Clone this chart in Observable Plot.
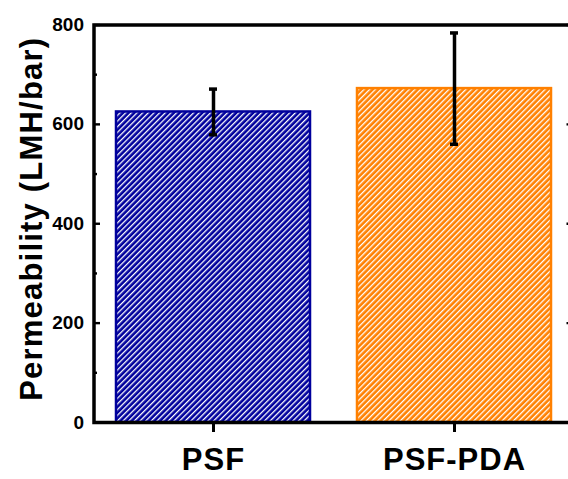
<!DOCTYPE html>
<html>
<head>
<meta charset="utf-8">
<script src="https://cdn.jsdelivr.net/npm/d3@7"></script>
<script src="https://cdn.jsdelivr.net/npm/@observablehq/plot@0.6"></script>
<style>
  html, body { margin: 0; padding: 0; background: #fff; overflow: hidden; }
  #chart { width: 568px; height: 479px; overflow: hidden; }
  #chart svg { max-width: none !important; }
</style>
</head>
<body>
<div id="chart"></div>
<script>
// Membrane permeability, mean ± error
const categories = ["PSF", "PSF-PDA"];
const permeability = [625, 672];
const errors = [46, 112];
const yTicks = [0, 200, 400, 600, 800];
const yMinorTicks = [100, 300, 500, 700];
const yTitle = "Permeability (LMH/bar)";
const barColors = ["#00009C", "#FF8000"];

const rows = categories.map((name, i) => ({
  name,
  value: permeability[i],
  lo: permeability[i] - errors[i],
  hi: permeability[i] + errors[i]
}));

const font = "'Liberation Sans', Arial, Helvetica, sans-serif";

const plot = Plot.plot({
  width: 575,
  height: 479,
  marginLeft: 93.5,
  marginRight: 2,
  marginTop: 24.5,
  marginBottom: 57,
  style: { fontFamily: font, fontWeight: "bold", color: "black", background: "white", maxWidth: "none" },
  x: { domain: categories, paddingInner: 0.187, paddingOuter: 0.085, label: null },
  y: { domain: [0, 800], label: null },
  marks: [
    // hatched bars
    ...rows.map((r, i) => Plot.barY([r], {
      x: "name", y: "value",
      fill: `url(#hatch-${i})`,
      stroke: barColors[i], strokeWidth: 2.5,
      insetLeft: 1, insetRight: 1
    })),
    // error bars
    Plot.ruleX(rows, { x: "name", y1: "lo", y2: "hi", stroke: "black", strokeWidth: 3.5 }),
    Plot.tickY(rows, { x: "name", y: "hi", stroke: "black", strokeWidth: 3.5, insetLeft: 94, insetRight: 94 }),
    Plot.tickY(rows, { x: "name", y: "lo", stroke: "black", strokeWidth: 3.5, insetLeft: 94, insetRight: 94 }),
    // inward ticks on left and right edges
    Plot.ruleY(yTicks, { stroke: "black", strokeWidth: 2.4, insetRight: 473 }),
    Plot.ruleY(yMinorTicks, { stroke: "black", strokeWidth: 2.4, insetRight: 476 }),
    Plot.ruleY(yTicks, { stroke: "black", strokeWidth: 2.4, insetLeft: 473 }),
    Plot.ruleY(yMinorTicks, { stroke: "black", strokeWidth: 2.4, insetLeft: 476 }),
    Plot.axisY({ ticks: yTicks, tickSize: 0, tickPadding: 10, fontSize: 19, label: null }),
    Plot.axisX({ tickSize: 10, tickPadding: 15, fontSize: 31, strokeWidth: 3, label: null }),
    Plot.frame({ stroke: "black", strokeWidth: 3.5 }),
    Plot.text([yTitle], {
      frameAnchor: "left", textAnchor: "middle", rotate: -90, dx: -62, dy: -5,
      fontSize: 31, lineAnchor: "middle", fill: "black"
    })
  ]
});
plot.style.maxWidth = "none";

// diagonal hatch patterns for the bar fills
const svg = d3.select(plot);
const defs = svg.insert("defs", ":first-child");
barColors.forEach((c, i) => {
  const p = defs.append("pattern")
    .attr("id", `hatch-${i}`)
    .attr("patternUnits", "userSpaceOnUse")
    .attr("width", 4).attr("height", 4)
    .attr("patternTransform", "rotate(45)");
  p.append("rect").attr("width", 4).attr("height", 4).attr("fill", c);
  p.append("rect").attr("width", 1.3).attr("height", 4).attr("fill", "white");
});

svg.selectAll("g[aria-label='x-axis tick label'] text").attr("letter-spacing", "1px");
svg.selectAll("text").filter(function () { return this.textContent === yTitle; })
  .attr("letter-spacing", "1.2px");

document.getElementById("chart").appendChild(plot);
</script>
</body>
</html>
